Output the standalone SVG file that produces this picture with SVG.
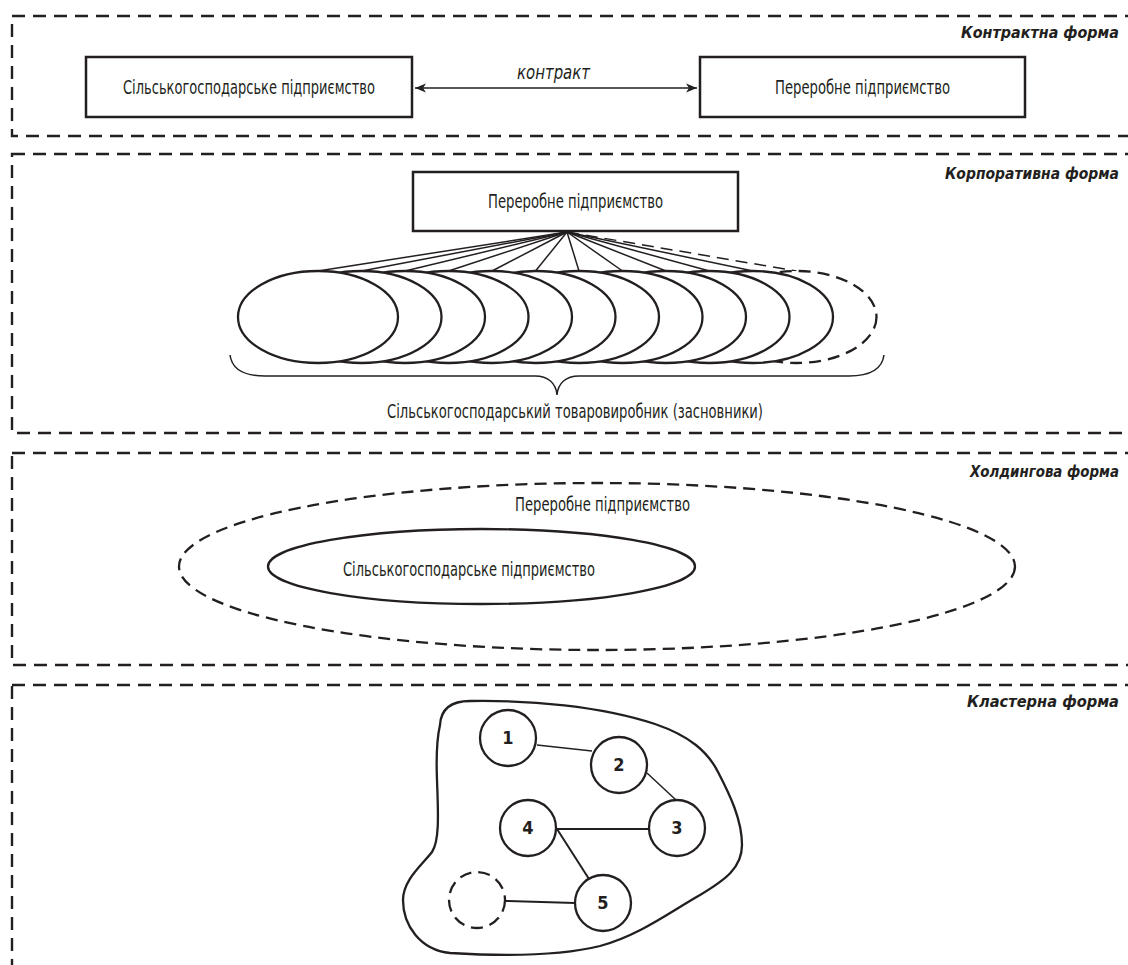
<svg xmlns="http://www.w3.org/2000/svg" width="1128" height="965" viewBox="0 0 1128 965">
<style>
.sec{fill:none;stroke:#231f20;stroke-width:2.4;stroke-dasharray:13 8}
.box{fill:#fff;stroke:#231f20;stroke-width:2.5}
.ell{fill:#fff;stroke:#231f20;stroke-width:2.3}
.dash{fill:#fff;stroke:#231f20;stroke-width:2.3;stroke-dasharray:12 7}
.t{font-family:"Liberation Sans Narrow","DejaVu Sans Condensed","Liberation Sans",sans-serif;font-size:19px;fill:#231f20}
.lbl{font-family:"Liberation Sans Narrow","DejaVu Sans Condensed","Liberation Sans",sans-serif;font-size:15px;font-weight:bold;font-style:italic;fill:#231f20}
.num{font-family:"Liberation Sans Narrow","DejaVu Sans Condensed","Liberation Sans",sans-serif;font-size:18px;font-weight:bold;fill:#231f20;text-anchor:middle}
.ln{stroke:#231f20;stroke-width:1.5;fill:none}
.lnb{stroke:#231f20;stroke-width:2;fill:none}
</style>
<defs>
<marker id="ah" markerUnits="userSpaceOnUse" markerWidth="12" markerHeight="10" refX="11" refY="5" orient="auto-start-reverse">
<path d="M0,0.5 L11,5 L0,9.5 L3,5 Z" fill="#231f20"/>
</marker>
</defs>
<rect width="1128" height="965" fill="#fff"/>

<g id="contract-section">
<rect class="sec" x="12" y="16" width="1140" height="120"/>
<text class="lbl" x="961" y="38" textLength="158" lengthAdjust="spacingAndGlyphs">Контрактна форма</text>
</g>
<g id="agri-enterprise">
<rect class="box" x="86" y="57" width="326" height="60"/>
<text class="t" x="123" y="94" textLength="252" lengthAdjust="spacingAndGlyphs">Сільськогосподарське підприємство</text>
</g>
<g id="processing-enterprise">
<rect class="box" x="700" y="57" width="325" height="60"/>
<text class="t" x="775" y="94" textLength="175" lengthAdjust="spacingAndGlyphs">Переробне підприємство</text>
</g>

<g id="corporate-section">
<rect class="sec" x="12" y="154" width="1140" height="279"/>
<text class="lbl" x="945" y="179" textLength="174" lengthAdjust="spacingAndGlyphs">Корпоративна форма</text>
</g>

<g id="connectors">
<line class="ln" x1="415" y1="88" x2="697" y2="88" marker-start="url(#ah)" marker-end="url(#ah)"/>
<text class="t" x="517" y="79" font-style="italic" textLength="73" lengthAdjust="spacingAndGlyphs">контракт</text>
<g id="fan">
<line class="ln" x1="567" y1="232" x2="318" y2="271"/>
<line class="ln" x1="567" y1="232" x2="361.5" y2="271"/>
<line class="ln" x1="567" y1="232" x2="405" y2="271"/>
<line class="ln" x1="567" y1="232" x2="448.5" y2="271"/>
<line class="ln" x1="567" y1="232" x2="492" y2="271"/>
<line class="ln" x1="567" y1="232" x2="535.5" y2="271"/>
<line class="ln" x1="567" y1="232" x2="579" y2="271"/>
<line class="ln" x1="567" y1="232" x2="622.5" y2="271"/>
<line class="ln" x1="567" y1="232" x2="666" y2="271"/>
<line class="ln" x1="567" y1="232" x2="709.5" y2="271"/>
<line class="ln" x1="567" y1="232" x2="753" y2="271"/>
<line class="ln" x1="567" y1="232" x2="796.5" y2="271" stroke-dasharray="12 7"/>
</g>
<g id="cluster-links">
<line class="ln" x1="537" y1="745" x2="592" y2="751"/>
<line class="ln" x1="647" y1="773" x2="676" y2="800"/>
<line class="lnb" x1="557" y1="829" x2="649" y2="829"/>
<line class="lnb" x1="557" y1="829" x2="589" y2="879"/>
<line class="lnb" x1="506" y1="901" x2="575" y2="903"/>
</g>
</g>

<g id="corp-processing">
<rect class="box" x="413" y="172" width="325" height="59"/>
<text class="t" x="488" y="208" textLength="175" lengthAdjust="spacingAndGlyphs">Переробне підприємство</text>
</g>
<g id="founders">
<ellipse class="dash" cx="796.5" cy="317" rx="80" ry="46"/>
<ellipse class="ell" cx="753" cy="317" rx="80" ry="46"/>
<ellipse class="ell" cx="709.5" cy="317" rx="80" ry="46"/>
<ellipse class="ell" cx="666" cy="317" rx="80" ry="46"/>
<ellipse class="ell" cx="622.5" cy="317" rx="80" ry="46"/>
<ellipse class="ell" cx="579" cy="317" rx="80" ry="46"/>
<ellipse class="ell" cx="535.5" cy="317" rx="80" ry="46"/>
<ellipse class="ell" cx="492" cy="317" rx="80" ry="46"/>
<ellipse class="ell" cx="448.5" cy="317" rx="80" ry="46"/>
<ellipse class="ell" cx="405" cy="317" rx="80" ry="46"/>
<ellipse class="ell" cx="361.5" cy="317" rx="80" ry="46"/>
<ellipse class="ell" cx="318" cy="317" rx="80" ry="46"/>
<path class="ln" d="M230,355 C232,370 245,376 265,376 L535,376 C548,376 556,383 557,395 C558,383 566,376 579,376 L849,376 C869,376 882,370 884,355"/>
<text class="t" x="387" y="418" textLength="376" lengthAdjust="spacingAndGlyphs">Сільськогосподарський товаровиробник (засновники)</text>
</g>

<g id="holding-section">
<rect class="sec" x="12" y="453" width="1140" height="212"/>
<text class="lbl" x="970" y="477" textLength="149" lengthAdjust="spacingAndGlyphs">Холдингова форма</text>
</g>
<g id="holding-processing">
<ellipse class="dash" cx="597" cy="566.5" rx="418" ry="83.5" fill="none"/>
<text class="t" x="515" y="511" textLength="175" lengthAdjust="spacingAndGlyphs">Переробне підприємство</text>
</g>
<g id="holding-agri">
<ellipse class="ell" cx="481.5" cy="566.5" rx="213.5" ry="37.5"/>
<text class="t" x="343" y="576" textLength="252" lengthAdjust="spacingAndGlyphs">Сільськогосподарське підприємство</text>
</g>

<g id="cluster-section">
<rect class="sec" x="12" y="685" width="1140" height="400"/>
<text class="lbl" x="967" y="707" textLength="152" lengthAdjust="spacingAndGlyphs">Кластерна форма</text>
</g>
<g id="cluster-outline">
<path fill="none" stroke="#231f20" stroke-width="2.3" d="M440,725 C441,708 452,701 470,701 C530,700 600,706 655,724 C690,736 708,752 718,772 C730,795 742,820 742,845 C742,868 725,880 700,895 C670,912 640,935 600,946 C560,956 500,956 450,953 C420,950 403,925 403,900 C403,880 422,865 432,852 C440,840 438,810 437,780 C436,755 437,738 440,725 Z"/>
</g>
<g id="c1"><circle class="ell" cx="508" cy="738" r="28"/><text class="num" x="508" y="744">1</text></g>
<g id="c2"><circle class="ell" cx="619" cy="765" r="28"/><text class="num" x="619" y="771">2</text></g>
<g id="c3"><circle class="ell" cx="677" cy="828" r="28"/><text class="num" x="677" y="834">3</text></g>
<g id="c4"><circle class="ell" cx="528" cy="828" r="28"/><text class="num" x="528" y="834">4</text></g>
<g id="c5"><circle class="ell" cx="603" cy="903" r="28"/><text class="num" x="603" y="909">5</text></g>
<g id="c6"><circle class="dash" cx="477" cy="900" r="28" stroke-dasharray="10 6"/></g>
</svg>
